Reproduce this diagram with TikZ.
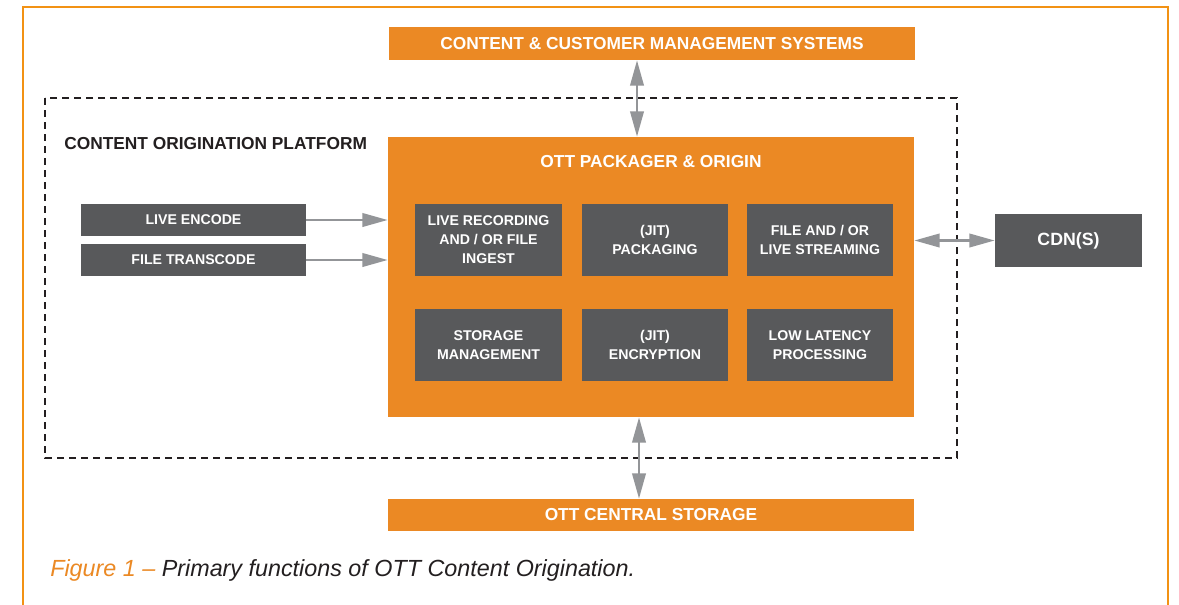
\documentclass[tikz,border=0pt]{standalone}
\usepackage{fontspec}
\setmainfont{Liberation Sans}
\usetikzlibrary{arrows.meta}
\definecolor{og}{RGB}{235,137,36}
\definecolor{frameog}{RGB}{242,146,20}
\definecolor{gbox}{RGB}{88,89,91}
\definecolor{arr}{RGB}{147,149,152}
\definecolor{txt}{RGB}{35,31,32}
\tikzset{
  orangebox/.style={fill=og, draw=none, inner sep=0pt, text=white, font=\bfseries\fontsize{13}{15}\selectfont},
  graybox/.style={fill=gbox, draw=none, inner sep=0pt, text=white, align=center, font=\bfseries\fontsize{10.6}{14.3}\selectfont},
  conn/.style={draw=arr, line width=2pt, {Triangle[length=19pt,width=10pt]}-{Triangle[length=19pt,width=10pt]}},
  oneway/.style={draw=arr, line width=2pt, -{Triangle[length=19pt,width=10pt]}},
}
\begin{document}
\begin{tikzpicture}[x=0.75pt,y=-0.75pt]
\useasboundingbox (0,0) rectangle (1179,604);
\fill[white] (0,0) rectangle (1179,604);
% frame
\draw[frameog, line width=1.6pt] (23,610) -- (23,7) -- (1168,7) -- (1168,610);
% dashed platform
\draw[txt, line width=0.9pt, dash pattern=on 5pt off 4pt] (45,98) rectangle (957,458);
\node[anchor=west, text=txt, inner sep=0pt, font=\bfseries\fontsize{13}{15}\selectfont] (plat) at (64,144) {CONTENT ORIGINATION PLATFORM};
% top and bottom
\node[orangebox, minimum width=526*0.75pt, minimum height=33*0.75pt] (cms) at (652,43.5) {CONTENT \& CUSTOMER MANAGEMENT SYSTEMS};
\node[orangebox, minimum width=526*0.75pt, minimum height=32*0.75pt] (stor) at (651,515) {OTT CENTRAL STORAGE};
% packager
\node[fill=og, minimum width=526*0.75pt, minimum height=280*0.75pt, inner sep=0pt] (pkg) at (651,277) {};
\node[text=white, font=\bfseries\fontsize{13}{15}\selectfont] (pkgt) at (651,162) {OTT PACKAGER \& ORIGIN};
% inner boxes
\node[graybox, minimum width=147*0.75pt, minimum height=72*0.75pt] (b1) at (488.5,240) {LIVE RECORDING\\AND / OR FILE\\INGEST};
\node[graybox, minimum width=146*0.75pt, minimum height=72*0.75pt] (b2) at (655,240) {(JIT)\\PACKAGING};
\node[graybox, minimum width=146*0.75pt, minimum height=72*0.75pt] (b3) at (820,240) {FILE AND / OR\\LIVE STREAMING};
\node[graybox, minimum width=147*0.75pt, minimum height=72*0.75pt] (b4) at (488.5,345) {STORAGE\\MANAGEMENT};
\node[graybox, minimum width=146*0.75pt, minimum height=72*0.75pt] (b5) at (655,345) {(JIT)\\ENCRYPTION};
\node[graybox, minimum width=146*0.75pt, minimum height=72*0.75pt] (b6) at (820,345) {LOW LATENCY\\PROCESSING};
% left boxes
\node[graybox, minimum width=225*0.75pt, minimum height=32*0.75pt] (le) at (193.5,220) {LIVE ENCODE};
\node[graybox, minimum width=225*0.75pt, minimum height=32*0.75pt] (ft) at (193.5,260) {FILE TRANSCODE};
% CDN
\node[graybox, minimum width=147*0.75pt, minimum height=53*0.75pt, font=\bfseries\fontsize{13.3}{15}\selectfont] (cdn) at (1068.5,240.5) {CDN(S)};
% arrows
\draw[oneway] (le.east) -- (le.east -| pkg.west);
\draw[oneway] (ft.east) -- (ft.east -| pkg.west);
\draw[conn] (pkg.east |- cdn.west) -- (cdn.west);
\coordinate (tA) at (637,0);
\draw[conn] (tA |- cms.south) -- (tA |- pkg.north);
\coordinate (bA) at (639,0);
\draw[conn] (bA |- pkg.south) -- (bA |- stor.north);
% caption
\node[anchor=west, font=\itshape\fontsize{17.5}{20}\selectfont, inner sep=0pt] (cap) at (50,570) {\textcolor{og}{Figure 1 –} \textcolor{txt}{Primary functions of OTT Content Origination.}};
\end{tikzpicture}
\end{document}
